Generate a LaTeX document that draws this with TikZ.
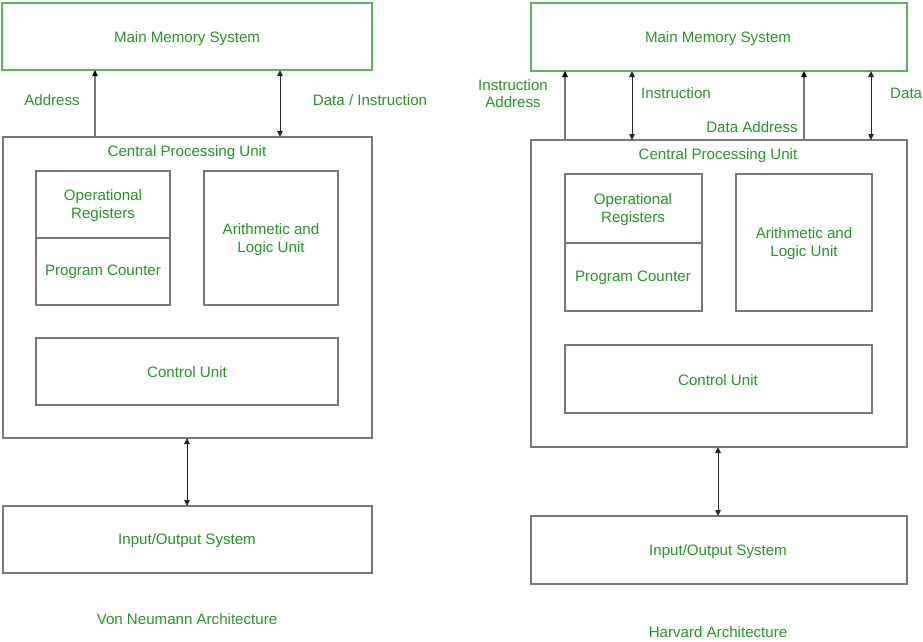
\documentclass[tikz,border=0pt]{standalone}
\usepackage{fontspec}
\setmainfont{Liberation Sans}
\usetikzlibrary{arrows.meta}
\definecolor{txtgreen}{RGB}{42,146,42}
\definecolor{memgreen}{RGB}{96,176,96}
\definecolor{boxgrey}{RGB}{120,120,120}
\tikzset{
  x=1pt, y=-1pt,
  lbl/.style={text=txtgreen, font=\fontsize{15.1}{17.6}\selectfont, align=center, inner sep=0pt, yshift=-1.5pt},
  unitbox/.style={draw=boxgrey, line width=1.1pt, fill=white},
  membox/.style={draw=memgreen, line width=1.1pt},
  onearrow/.style={draw=boxgrey, line width=1.3pt, -{Triangle[length=6pt,width=5.5pt,color=black]}},
  twoarrow/.style={draw=black!85, line width=0.9pt, {Triangle[length=6pt,width=5.5pt]}-{Triangle[length=6pt,width=5.5pt]}},
}
\begin{document}
\begin{tikzpicture}
\useasboundingbox (0,0) rectangle (923,642);

% ---------- Von Neumann ----------
\draw[membox] (2,3) rectangle (372,70);
\node[lbl] (vmem) at (187,37) {Main Memory System};
\coordinate (vmemA) at (95,70);
\coordinate (vmemD) at (280,70);

\draw[unitbox] (3,137) rectangle (372,438);
\node[lbl] (vcpu) at (187,151) {Central Processing Unit};
\coordinate (vcpuA) at (95,137);
\coordinate (vcpuD) at (280,137);
\coordinate (vcpuB) at (187,438);

\draw[unitbox] (36,171) rectangle (170,238);
\draw[unitbox] (36,238) rectangle (170,305);
\node[lbl] (vreg) at (103,204) {Operational\\Registers};
\node[lbl] (vpc) at (103,270) {Program Counter};
\draw[unitbox] (204,171) rectangle (338,305);
\node[lbl] (valu) at (271,238) {Arithmetic and\\Logic Unit};
\draw[unitbox] (36,338) rectangle (338,405);
\node[lbl] (vcu) at (187,371) {Control Unit};

\draw[unitbox] (3,506) rectangle (372,573);
\node[lbl] (vio) at (187,539) {Input/Output System};
\coordinate (vioT) at (187,506);

\draw[onearrow] (vcpuA) -- (vmemA);
\draw[twoarrow] (vcpuD) -- (vmemD);
\draw[twoarrow] (vcpuB) -- (vioT);
\node[lbl] (vaddr) at (52,99) {Address};
\node[lbl] (vdata) at (370,99) {Data / Instruction};
\node[lbl] (vtitle) at (187,618) {Von Neumann Architecture};

% ---------- Harvard ----------
\draw[membox] (531,3) rectangle (907,71);
\node[lbl] (hmem) at (718,37) {Main Memory System};
\coordinate (hmemIA) at (565,71);
\coordinate (hmemI) at (632,71);
\coordinate (hmemDA) at (804,71);
\coordinate (hmemD) at (871,71);

\draw[unitbox] (531,140) rectangle (907,447);
\node[lbl] (hcpu) at (718,154) {Central Processing Unit};
\coordinate (hcpuIA) at (565,140);
\coordinate (hcpuI) at (632,140);
\coordinate (hcpuDA) at (804,140);
\coordinate (hcpuD) at (871,140);
\coordinate (hcpuB) at (718,447);

\draw[unitbox] (565,174) rectangle (702,243);
\draw[unitbox] (565,243) rectangle (702,311);
\node[lbl] (hreg) at (633,208) {Operational\\Registers};
\node[lbl] (hpc) at (633,276) {Program Counter};
\draw[unitbox] (736,174) rectangle (872,311);
\node[lbl] (halu) at (804,242) {Arithmetic and\\Logic Unit};
\draw[unitbox] (565,345) rectangle (872,413);
\node[lbl] (hcu) at (718,379) {Control Unit};

\draw[unitbox] (531,516) rectangle (907,584);
\node[lbl] (hio) at (718,550) {Input/Output System};
\coordinate (hioT) at (718,516);

\draw[onearrow] (hcpuIA) -- (hmemIA);
\draw[twoarrow] (hcpuI) -- (hmemI);
\draw[onearrow] (hcpuDA) -- (hmemDA);
\draw[twoarrow] (hcpuD) -- (hmemD);
\draw[twoarrow] (hcpuB) -- (hioT);
\node[lbl] (hiaddr) at (513,92) {Instruction\\Address};
\node[lbl] (hinstr) at (676,92) {Instruction};
\node[lbl] (hdaddr) at (752,126) {Data Address};
\node[lbl, anchor=west] (hdata) at (890,92) {Data};
\node[lbl] (htitle) at (718,631) {Harvard Architecture};
\end{tikzpicture}
\end{document}
